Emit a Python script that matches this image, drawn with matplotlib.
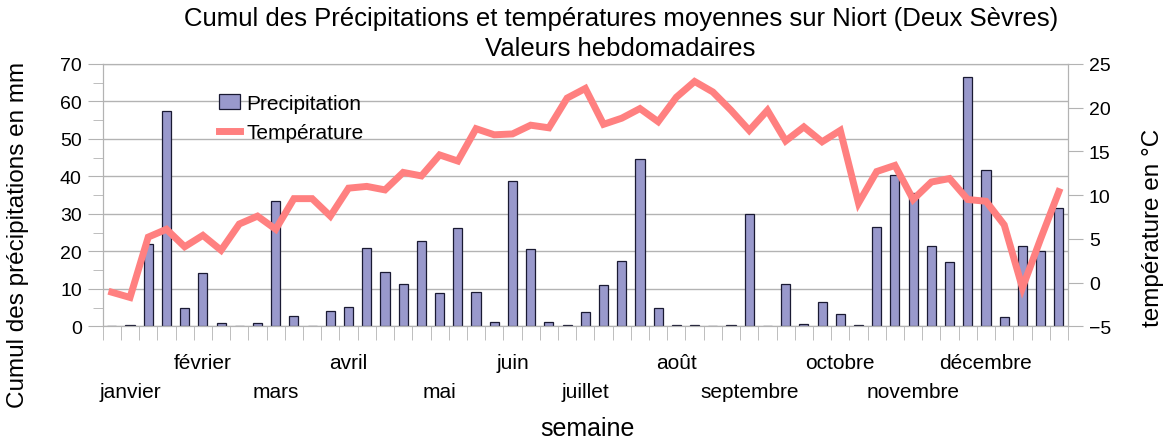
import matplotlib.pyplot as plt
import numpy as np

plt.rcParams['font.family'] = ['Liberation Sans', 'DejaVu Sans']

# weekly values, 53 weeks
precipitation = [0, 0.4, 22.0, 57.4, 5.0, 14.1, 1.0, 0, 0.8, 33.4,
                 2.8, 0, 4.0, 5.2, 20.8, 14.4, 11.2, 22.7, 8.8, 26.2,
                 9.2, 1.1, 38.7, 20.6, 1.1, 0.3, 3.8, 11.0, 17.4, 44.6,
                 5.0, 0.4, 0.3, 0, 0.3, 30.1, 0, 11.4, 0.5, 6.6,
                 3.4, 0.3, 26.6, 40.4, 35.6, 21.3, 17.2, 66.4, 41.8, 2.4,
                 21.3, 20.2, 31.5]
temperature = [-1.1, -1.7, 5.2, 6.1, 4.1, 5.4, 3.7, 6.7, 7.6, 6.1,
               9.6, 9.6, 7.6, 10.8, 11.0, 10.6, 12.6, 12.2, 14.6, 13.9,
               17.6, 16.9, 17.0, 18.0, 17.7, 21.1, 22.2, 18.1, 18.8, 19.9,
               18.4, 21.2, 23.0, 21.8, 19.7, 17.4, 19.7, 16.2, 17.8, 16.1,
               17.4, 9.1, 12.7, 13.4, 9.5, 11.5, 11.9, 9.5, 9.3, 6.6,
               -0.6, 5.0, 10.4]
months = ['janvier', 'février', 'mars', 'avril', 'mai', 'juin', 'juillet',
          'août', 'septembre', 'octobre', 'novembre', 'décembre']
month_weeks = [1, 5, 9, 13, 18, 22, 26, 31, 35, 40, 44, 48]

weeks = np.arange(len(precipitation))
grid_col = '#b3b3b3'

fig = plt.figure(figsize=(11.71, 4.39), dpi=100)
ax = fig.add_axes([0.0877, 0.2544, 0.8243, 0.5976])
ax2 = ax.twinx()

ax.bar(weeks, precipitation, width=0.5, color='#9999cc', edgecolor='#1a1a33',
       linewidth=0.9, label='Precipitation')
ax2.plot(weeks, temperature, color='#ff8080', linewidth=5, label='Température',
         solid_joinstyle='miter')

ax.set_xlim(-0.5, len(weeks) - 0.5)
ax.set_ylim(0, 70)
ax2.set_ylim(-5, 25)

ax.set_yticks(np.arange(0, 71, 10))
ax.set_yticks(np.arange(5, 70, 10), minor=True)
ax2.set_yticks(np.arange(-5, 26, 5))
ax.yaxis.grid(True, color=grid_col, linewidth=1)
ax.set_axisbelow(True)

# month labels on two rows: upper row on the main axis, lower row on a secondary one
ax.set_xticks(month_weeks[1::2])
ax.set_xticklabels(months[1::2], fontsize=15)
ax.set_xticks(np.arange(-0.5, len(weeks)), minor=True)
ax.tick_params(axis='x', which='major', length=0, pad=19)
ax.tick_params(axis='x', which='minor', length=10, color=grid_col)

sec = ax.secondary_xaxis('bottom')
sec.set_xticks(month_weeks[0::2])
sec.set_xticklabels(months[0::2], fontsize=15)
sec.tick_params(axis='x', length=0, pad=40)
sec.spines['bottom'].set_visible(False)

ax.tick_params(axis='y', which='major', length=11, color=grid_col, labelsize=14, pad=4)
ax.tick_params(axis='y', which='minor', length=7, color=grid_col)
ax2.tick_params(axis='y', length=11, color=grid_col, labelsize=14, pad=4)

for a in (ax, ax2):
    for s in a.spines.values():
        s.set_color(grid_col)

ax.set_ylabel('Cumul des précipitations en mm', fontsize=17.5)
ax.yaxis.set_label_coords(-0.076, 0.352)
ax2.set_ylabel('température en °C', fontsize=17.5)
ax2.yaxis.set_label_coords(1.077, 0.38)
ax.set_xlabel('semaine', fontsize=18)
ax.xaxis.set_label_coords(0.502, -0.342)

fig.text(0.53, 0.985, 'Cumul des Précipitations et températures moyennes sur Niort (Deux Sèvres)\nValeurs hebdomadaires',
         ha='center', va='top', fontsize=18.5, linespacing=1.35)

h1, l1 = ax.get_legend_handles_labels()
h2, l2 = ax2.get_legend_handles_labels()
ax2.legend(h1 + h2, l1 + l2, loc='upper left', bbox_to_anchor=(0.101, 0.957),
           frameon=False, fontsize=15, handlelength=1.0, handletextpad=0.3,
           labelspacing=0.5)

fig.savefig('out.png', dpi=100)
